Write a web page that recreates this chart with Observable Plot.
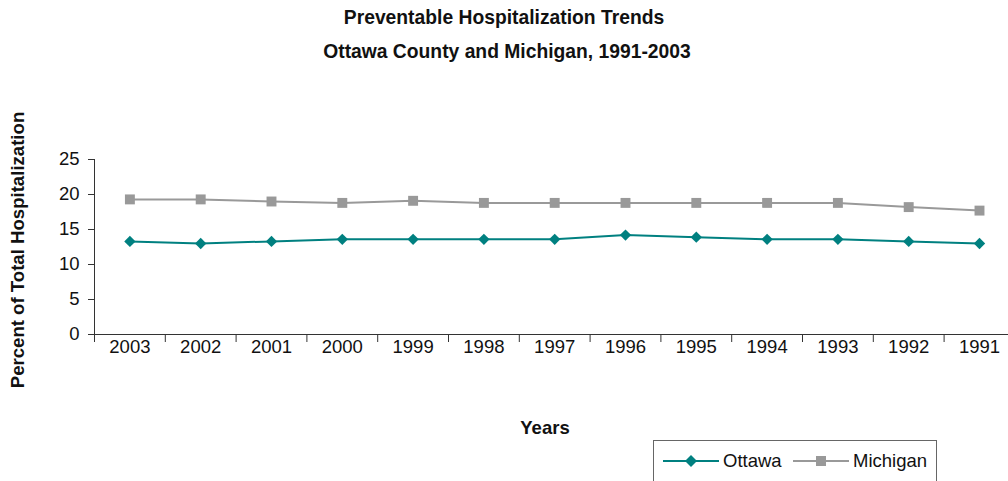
<!DOCTYPE html>
<html><head><meta charset="utf-8">
<script src="https://cdn.jsdelivr.net/npm/d3@7"></script>
<script src="https://cdn.jsdelivr.net/npm/@observablehq/plot@0.6"></script>
<style>
body{margin:0;background:#fff;}
#wrap{position:relative;width:1008px;height:481px;overflow:hidden;font-family:"Liberation Sans",Arial,sans-serif;color:#000;}
#chart{position:absolute;left:0;top:0;}
.t{position:absolute;left:0;width:1008px;text-align:center;font-weight:bold;font-size:19.3px;line-height:22px;color:#111;}
#ylab{position:absolute;font-weight:bold;font-size:18.6px;white-space:nowrap;left:18px;top:250px;transform:translate(-50%,-50%) rotate(-90deg);color:#111;}
#xlab{position:absolute;font-weight:bold;font-size:18.5px;left:545px;top:428px;transform:translate(-50%,-50%);color:#111;}
#legend{position:absolute;left:653px;top:440px;width:284px;height:60px;border:1px solid #666;box-sizing:border-box;}
.li{position:absolute;top:9px;font-size:18.5px;line-height:22px;display:flex;align-items:center;color:#111;}
.li svg{margin-right:4px;}
</style></head><body>
<div id="wrap">
<div id="chart"></div>
<div class="t" style="top:7px">Preventable Hospitalization Trends</div>
<div class="t" style="top:41px;left:3px">Ottawa County and Michigan, 1991-2003</div>
<div id="ylab">Percent of Total Hospitalization</div>
<div id="xlab">Years</div>
<div id="legend">
 <div class="li" style="left:9px"><svg width="56" height="14"><line x1="0" y1="7" x2="56" y2="7" stroke="#008080" stroke-width="2"/><path d="M28,1 L34,7 L28,13 L22,7Z" fill="#008080"/></svg>Ottawa</div>
 <div class="li" style="left:139px"><svg width="56" height="14"><line x1="0" y1="7" x2="56" y2="7" stroke="#999999" stroke-width="2"/><rect x="23" y="2" width="10" height="10" fill="#999999"/></svg>Michigan</div>
</div>
</div>
<script>
const years = ["2003","2002","2001","2000","1999","1998","1997","1996","1995","1994","1993","1992","1991"];
const ottawa = [13.3,13.0,13.3,13.6,13.6,13.6,13.6,14.2,13.9,13.6,13.6,13.3,13.0];
const michigan = [19.3,19.3,19.0,18.8,19.1,18.8,18.8,18.8,18.8,18.8,18.8,18.2,17.7];
const yTicks = [0,5,10,15,20,25];

const data = years.map((y,i)=>({i, year:y, ottawa:ottawa[i], michigan:michigan[i]}));
const bounds = d3.range(-0.5, years.length, 1);
const font = '"Liberation Sans",Arial,sans-serif';

const plot = Plot.plot({
  width:1008, height:481,
  marginLeft:94, marginRight:0, marginTop:159, marginBottom:147,
  x:{type:"linear", domain:[-0.5, years.length-0.5], range:[94, 94+70.8*years.length], axis:null},
  y:{domain:[0,25], range:[334,159], axis:null},
  style:{fontFamily:font, fontSize:"18.5px", color:"#111", background:"transparent", overflow:"visible"},
  marks:[
    Plot.axisY({ticks:yTicks, tickSize:6, tickPadding:9, label:null, fontSize:18.5, stroke:"#333", x:-0.5}),
    Plot.ruleX([-0.5], {y1:0, y2:25, stroke:"#333"}),
    Plot.ruleY([0], {x1:-0.5, x2:years.length-0.5, stroke:"#333"}),
    Plot.ruleX(bounds, {x:d=>d, y1:0, y2:-8/7.0, stroke:"#333"}),
    Plot.text(data, {x:"i", y:()=>0, text:"year", dy:13, fontSize:18.5, fill:"#111"}),
    Plot.line(data, {x:"i", y:"michigan", stroke:"#999999", strokeWidth:2}),
    Plot.dot(data, {x:"i", y:"michigan", symbol:"square", r:5.6, fill:"#999999"}),
    Plot.line(data, {x:"i", y:"ottawa", stroke:"#008080", strokeWidth:2}),
    Plot.dot(data, {x:"i", y:"ottawa", symbol:"diamond2", r:5.1, fill:"#008080"})
  ]
});
document.getElementById("chart").appendChild(plot);
</script>
</body></html>
